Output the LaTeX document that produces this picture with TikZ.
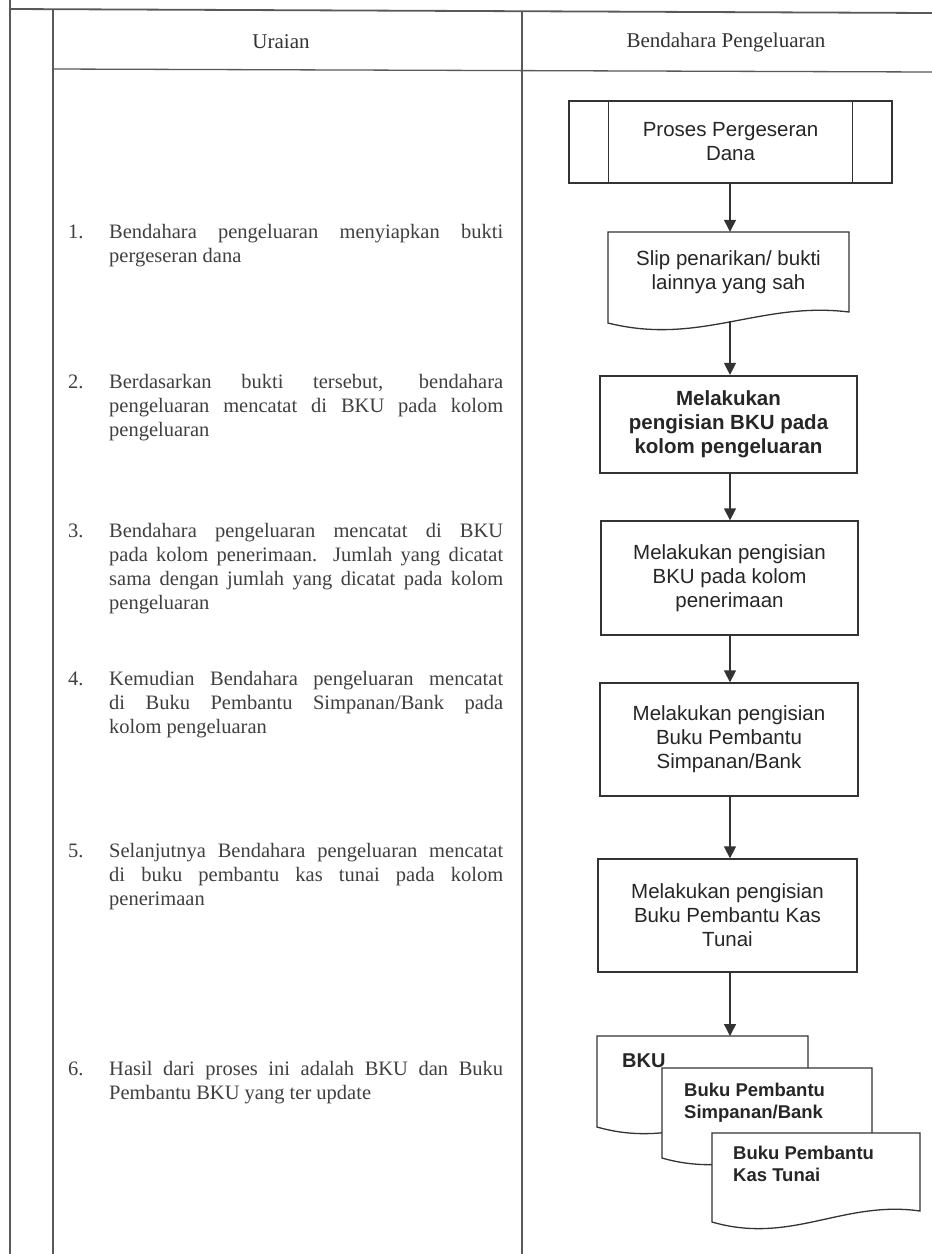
\documentclass[tikz,border=0pt]{standalone}
\usepackage{fontspec}
\setmainfont{Liberation Serif}
\newfontfamily\arialf{Liberation Sans}
\usetikzlibrary{arrows.meta,calc}
% #2=L #3=R #4=top #5=bottom-left y
\newcommand\docshape[5][]{%
  \draw[docline,#1] (#2,#4) -- (#3,#4) -- (#3,#5-11)
    .. controls ({#3-0.37*(#3-#2)},#5-22) and ({#2+0.38*(#3-#2)},#5+23) .. (#2,#5) -- cycle;}
\newcommand\bt[2]{\raisebox{#1}{\parbox{250pt}{\centering #2}}}
\newcommand\itemtext[1]{\parbox[t]{394pt}{\tolerance=10000\hbadness=10000 #1}}
\begin{document}
\begin{tikzpicture}[x=1pt,y=-1pt,
  frame/.style={draw=black!65, line width=1.3pt},
  boxline/.style={draw=black!80, line width=1.3pt},
  docline/.style={draw=black!80, line width=1.3pt, fill=white},
  proc/.style={draw=black!80, line width=1.3pt, inner sep=0pt, text=black!85,
    font=\arialf\fontsize{20.5}{24}\selectfont},
  docnode/.style={draw=none, inner sep=0pt, text=black!85,
    font=\arialf\fontsize{20.5}{24}\selectfont},
  doctext/.style={inner sep=0pt, text=black!85,
    font=\arialf\bfseries\fontsize{18.5}{22}\selectfont},
  arr/.style={draw=black!80, line width=1.3pt, -{Triangle[width=12pt,length=12pt]}},
  hdr/.style={inner sep=0pt, text=black!80, font=\fontsize{21}{24}\selectfont},
  itm/.style={inner sep=0pt, text=black!75, font=\fontsize{20.5}{24}\selectfont, anchor=base west}
]
\useasboundingbox (0,0) rectangle (932,1254);
\fill[white] (0,0) rectangle (932,1254);

% table frame
\draw[frame] (10,0) -- (10,1254);
\draw[frame, line width=1.8pt] (10,9) -- (932,13);
\draw[frame] (53,9) -- (53,1254);
\draw[frame] (522,11) -- (522,1254);
\draw[frame] (53,69) -- (932,72);

% headers
\node[hdr] (h1) at (281,42) {Uraian};
\node[hdr] (h2) at (726,42) {Bendahara Pengeluaran};

% left column items
\node[itm] (n1) at (68,238) {1.};
\node[itm] (p1) at (109,238) {\itemtext{Bendahara pengeluaran menyiapkan bukti\linebreak pergeseran dana}};
\node[itm] (n2) at (68,388) {2.};
\node[itm] (p2) at (109,388) {\itemtext{Berdasarkan bukti tersebut, bendahara\linebreak pengeluaran mencatat di BKU pada kolom\linebreak pengeluaran}};
\node[itm] (n3) at (68,537) {3.};
\node[itm] (p3) at (109,537) {\itemtext{Bendahara pengeluaran mencatat di BKU\linebreak pada kolom penerimaan. Jumlah yang dicatat\linebreak sama dengan jumlah yang dicatat pada kolom\linebreak pengeluaran}};
\node[itm] (n4) at (68,685) {4.};
\node[itm] (p4) at (109,685) {\itemtext{Kemudian Bendahara pengeluaran mencatat\linebreak di Buku Pembantu Simpanan/Bank pada\linebreak kolom pengeluaran}};
\node[itm] (n5) at (68,857) {5.};
\node[itm] (p5) at (109,857) {\itemtext{Selanjutnya Bendahara pengeluaran mencatat\linebreak di buku pembantu kas tunai pada kolom\linebreak penerimaan}};
\node[itm] (n6) at (68,1075) {6.};
\node[itm] (p6) at (109,1075) {\itemtext{Hasil dari proses ini adalah BKU dan Buku\linebreak Pembantu BKU yang ter update}};

% flowchart
\coordinate (ax) at (730,0);
\node[proc, minimum width=323pt, minimum height=82pt] (b1) at (730.5,142) {\bt{4pt}{Proses Pergeseran\\Dana}};
\draw[boxline] ($(b1.north west)+(40,0)$) -- ($(b1.south west)+(40,0)$);
\draw[boxline] ($(b1.north east)+(-40,0)$) -- ($(b1.south east)+(-40,0)$);

\docshape{608}{849}{232}{323}
\node[docnode, minimum width=241pt, minimum height=80pt] (b2) at (728.5,272) {\bt{5pt}{Slip penarikan/ bukti\\lainnya yang sah}};
\coordinate (b2w) at (730,321);

\node[proc, line width=2.2pt, minimum width=257pt, minimum height=97pt] (b3) at (728.5,424.5) {\bt{3pt}{\bfseries Melakukan\\pengisian BKU pada\\kolom pengeluaran}};
\node[proc, minimum width=257pt, minimum height=114pt] (b4) at (729.5,578) {\bt{10pt}{Melakukan pengisian\\BKU pada kolom\\penerimaan}};
\node[proc, minimum width=258pt, minimum height=113pt] (b5) at (729,739.5) {\bt{7pt}{Melakukan pengisian\\Buku Pembantu\\Simpanan/Bank}};
\node[proc, minimum width=259pt, minimum height=113pt] (b6) at (727.5,915.5) {\bt{8pt}{Melakukan pengisian\\Buku Pembantu Kas\\Tunai}};

% stacked documents
\docshape{597}{808}{1036}{1127}
\docshape{662}{872}{1068}{1158}
\docshape{712}{920}{1133}{1222}
\coordinate (dA) at (730,1036);
\node[doctext, font=\arialf\bfseries\fontsize{20}{24}\selectfont, anchor=base west] (t1) at (622,1067) {BKU};
\node[doctext, anchor=base west] (t2) at (684,1096) {\parbox[t]{180pt}{Buku Pembantu\\Simpanan/Bank}};
\node[doctext, anchor=base west] (t3) at (733,1159) {\parbox[t]{180pt}{Buku Pembantu\\Kas Tunai}};

% connectors
\draw[arr] (b1.south -| ax) -- (b2.north -| ax);
\draw[arr] (b2w) -- (b3.north -| ax);
\draw[arr] (b3.south -| ax) -- (b4.north -| ax);
\draw[arr] (b4.south -| ax) -- (b5.north -| ax);
\draw[arr] (b5.south -| ax) -- (b6.north -| ax);
\draw[arr] (b6.south -| ax) -- (dA);
\end{tikzpicture}
\end{document}
